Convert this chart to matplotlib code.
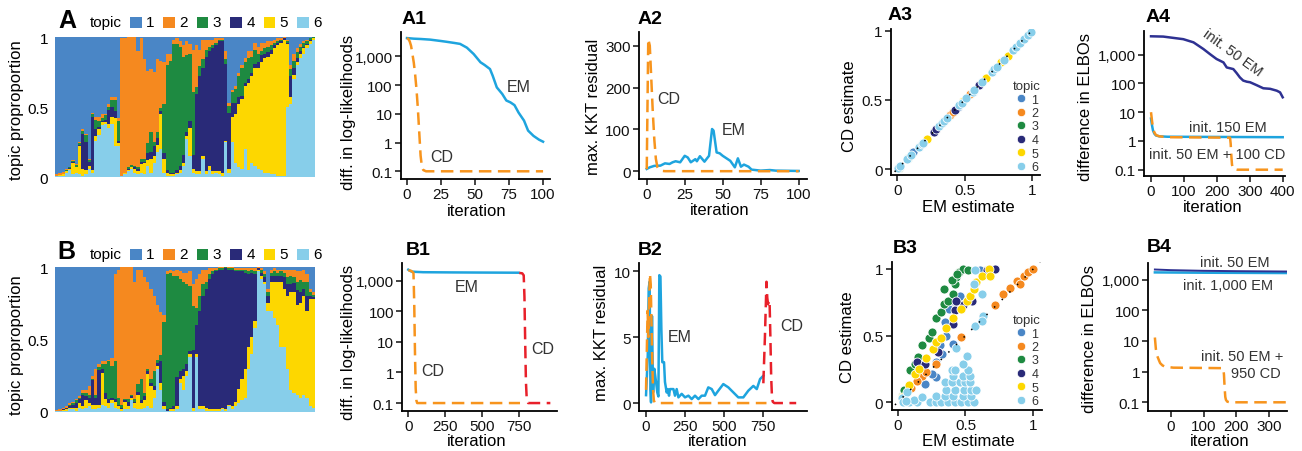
import numpy as np
import matplotlib
matplotlib.use('Agg')
import matplotlib.pyplot as plt
from matplotlib.patches import Rectangle
from matplotlib.lines import Line2D
from matplotlib.ticker import NullLocator

plt.rcParams['font.family'] = ['Liberation Sans', 'DejaVu Sans']

# ---------------- data ----------------
TOPICS = ['1', '2', '3', '4', '5', '6']
TOPIC_COLORS = ['#4a86c6', '#f5891f', '#1e8a41', '#292a78', '#fdd700', '#87ceea']

# Panel A topic proportions (80 samples)
A_t6 = [.005,.01,.01,.03,.05,.02,.03,.02,.01,.02, .06,.03,.26,.3,.37,.38,.35,.38,.22,.22,
        .01,.02,.04,.06,.03,.02,.03,.02,.08,.03, .1,.18,.2,.03,.01,.01,.01,.02,.03,.08,
        .27,.15,.03,.02,.02,.13,.02,.05,.02,.03, .02,.01,.25,.03,.25,.1,.07,.06,.2,.05,
        .1,.08,.06,.05,.03,.03,.02,.02,.01,.01, .01,.5,.52,.7,.8,.85,.88,.92,.95,.98]
A_t5 = [.005,.005,.01,.01,.01,.08,.04,.2,.05,.03, .02,.02,.03,.04,.02,.01,.03,.05,.2,.02,
        0,.01,.01,.01,.03,.02,.06,.08,.04,.1, .05,.05,.25,.1,.02,.01,.01,.01,.02,.02,
        .02,.2,.03,.02,.02,.02,.02,.03,.02,.01, .02,.02,.01,.03,.18,.35,.45,.5,.45,.62,
        .62,.7,.72,.77,.82,.83,.86,.9,.93,.95, .97,.45,.05,.03,.02,.03,.04,.02,.02,.01]
A_t4 = [0,0,.005,.005,.005,.01,.005,.01,.25,.2, .03,.38,.05,.02,.01,.02,.1,.07,.05,.02,
        0,0,.01,.005,.01,.02,.02,.01,.05,.05, .07,.05,.02,.04,.02,.01,.01,.02,.03,.06,
        .03,.05,.1,.55,.68,.63,.82,.82,.88,.9, .93,.94,.55,.4,.1,.08,.05,.02,.02,.03,
        .02,.03,.04,.05,.03,.03,.03,.02,.02,.01, .01,.01,.15,.05,.03,.02,.01,.01,.01,.005]
A_t3 = [0,0,0,.005,.005,.005,.01,.01,.02,.05, .01,.02,.07,.04,.02,.03,.02,.05,.08,.14,
        0,0,.01,.01,.01,.01,.02,.02,.07,.14, .03,.04,.02,.35,.75,.8,.92,.9,.85,.7,
        .55,.48,.45,.05,.07,.06,.05,.03,.02,.02, .01,.01,.03,.05,.08,.1,.15,.2,.15,.15,
        .12,.1,.06,.03,.04,.04,.03,.02,.01,.01, .005,.01,.05,.05,.04,.03,.03,.02,.01,.005]
A_t2 = [.01,.015,.01,.01,.005,.01,.01,.01,.01,.01, .01,.01,.02,.03,.03,.01,.02,.02,.02,.02,
        .98,.96,.93,.915,.92,.83,.86,.71,.52,.45, .5,.52,.34,.3,.08,.05,.03,.04,.04,.08,
        .1,.07,.3,.3,.12,.14,.07,.05,.04,.03, .01,.01,.06,.02,.01,.02,.02,.02,.03,.05,
        .04,.05,.05,.06,.04,.04,.03,.02,.02,.01, .005,.01,.03,.05,.03,.02,.01,.01,.005,0]
A_t1 = [.98,.97,.965,.94,.925,.875,.905,.75,.66,.69, .87,.54,.57,.57,.55,.55,.48,.43,.43,.58,
        .01,.01,0,0,0,.1,.01,.16,.24,.23, .25,.16,.17,.18,.12,.12,.02,.01,.03,.06,
        .03,.05,.09,.06,.09,.02,.02,.02,.02,.01, .01,.01,.1,.47,.38,.35,.26,.2,.15,.1,
        .1,.04,.07,.04,.04,.03,.03,.02,.01,.01, 0,.02,.2,.12,.08,.05,.03,.02,.005,0]

# Panel B topic proportions (80 samples)
B_t6 = [.005,.005,.01,.01,.02,.02,.01,.03,.02,.03, .04,.02,.02,.03,.05,.04,.03,.06,.03,.02,
        .01,.02,.02,.08,.03,.02,.02,.03,.04,.03, .1,.3,.15,.02,.01,.01,.01,.02,.2,.15,
        .25,.38,.01,.38,.02,.02,.01,.01,.01,.01, .01,.02,.01,.04,.02,.04,.06,.08,.1,.3,
        .4,.58,.97,.92,.88,.7,.7,.65,.6,.45, .45,.3,.15,.13,.12,.1,.12,.1,.04,.03]
B_t5 = [.005,.005,.005,.01,.01,.01,.02,.03,.02,.05, .02,.03,.03,.02,.22,.05,.03,.02,.04,.02,
        .01,.05,.02,.02,.03,.1,.04,.05,.22,.15, .05,.02,.05,.02,0,.01,.01,.02,.03,.1,
        .03,.02,.02,.02,.02,.02,.02,.01,.01,.01, .01,.01,.01,.01,.02,.03,.1,.15,.2,.15,
        .12,.05,.01,.02,.02,.05,.2,.25,.3,.45, .4,.5,.68,.7,.62,.65,.68,.6,.74,.75]
B_t4 = [0,0,.005,.005,.01,.02,.03,.03,.08,.03, .04,.17,.05,.24,.03,.04,.03,.02,.02,.01,
        .01,.01,.03,.01,.01,.02,.02,.03,.02,.02, .03,.02,.15,.03,.01,.01,.02,.2,.05,.05,
        .05,.02,.4,.2,.66,.76,.82,.9,.93,.95, .96,.95,.97,.93,.94,.9,.81,.74,.66,.5,
        .44,.32,.01,.02,.03,.05,.04,.04,.04,.04, .08,.08,.05,.06,.1,.08,.05,.1,.02,.01]
B_t3 = [0,0,0,.005,.01,.01,.02,.01,.01,.02, .02,.01,.02,.02,.03,.2,.26,.22,.26,.05,
        .02,.01,.02,.01,.02,.05,.15,.02,.02,.03, .1,.02,.04,.55,.93,.93,.9,.7,.64,.6,
        .55,.45,.3,.12,.1,.08,.05,.03,.02,.01, .01,.01,.01,.01,.01,.01,.01,.01,.02,.02,
        .02,.02,.005,.02,.02,.03,.02,.03,.02,.03, .03,.05,.06,.04,.06,.08,.05,.1,.03,.02]
B_t2 = [.005,.01,.01,.01,.01,.01,.01,.01,.02,.02, .06,.02,.18,.02,.02,.02,.01,.05,.6,.88,
        .95,.91,.91,.88,.81,.79,.75,.8,.6,.62, .52,.38,.3,.05,.02,.02,.03,.04,.05,.06,
        .08,.1,.15,.2,.15,.1,.08,.04,.02,.01, .01,.01,0,.01,.01,.01,.01,.01,.01,.02,
        .01,.02,.005,.01,.02,.02,.02,.02,.02,.01, .02,.05,.04,.05,.07,.06,.08,.05,.02,.02]
B_t1 = [.985,.98,.97,.96,.94,.93,.91,.89,.85,.85, .82,.75,.7,.67,.65,.65,.64,.63,.05,.02,
        0,0,0,0,.1,.02,.02,.07,.1,.15, .2,.26,.31,.33,.03,.02,.03,.02,.03,.04,
        .04,.03,.12,.08,.05,.02,.02,.01,.01,.01, 0,0,0,0,0,.01,.01,.01,.01,.01,
        .01,.01,0,.01,.03,.15,.02,.01,.02,.02, .02,.02,.02,.02,.03,.03,.02,.05,.15,.17]

# A1: difference in log-likelihoods
A1_em_x = [0, 5, 10, 17, 25, 29, 35, 39, 44, 49, 54, 57, 61, 63, 66, 70, 73, 76, 79, 82, 86, 89, 93, 97, 100]
A1_em_y = [4300, 4100, 4000, 3800, 3400, 3200, 2900, 2700, 2000, 1200, 620, 500, 360, 210, 83, 49, 29, 25, 20, 11, 5.8, 2.6, 1.7, 1.26, 1.07]
A1_cd_x = [0, 1, 2, 3, 4, 5, 6, 7, 8, 9, 10, 11, 12, 14, 100]
A1_cd_y = [4300, 4000, 3300, 2300, 1200, 600, 230, 70, 15, 2.3, 0.35, 0.14, 0.11, 0.1, 0.1]

# A2: max KKT residual
A2_em_x = [0, 2, 5, 9, 12, 15, 17, 19, 22, 25, 27, 29, 32, 33, 35, 38, 41, 43, 44, 46, 48, 50, 55, 58, 60, 62, 64, 67, 69, 75, 81, 85, 100]
A2_em_y = [5.6, 9.5, 13, 13.5, 19, 17.5, 21.5, 24, 21.5, 37, 33, 21.5, 29, 24, 36, 23, 37, 101, 97, 45, 43, 37, 25, 9.5, 31, 11, 16, 11, 4, 1.6, 3, 1.6, 0.8]
A2_cd_x = [0, 1, 2, 3, 4, 5, 6, 7, 8, 10, 12, 100]
A2_cd_y = [5, 316, 300, 220, 140, 75, 30, 10, 4, 1, 0.3, 0.2]

# A3: CD vs EM estimates
A3_em = {
    '1': [0.02, 0.12, 0.45],
    '2': [0.39, 0.41, 0.54],
    '3': [0.01, 0.08],
    '4': [0.27, 0.29, 0.43, 0.61],
    '5': [0.22, 0.49, 0.66, 0.77, 0.82],
    '6': [0.005, 0.02, 0.07, 0.1, 0.16, 0.18, 0.19, 0.31, 0.33, 0.35, 0.37, 0.46, 0.48, 0.51,
          0.56, 0.57, 0.63, 0.7, 0.72, 0.74, 0.79, 0.86, 0.88, 0.91, 0.94, 0.97, 0.99],
}
A3_cd = {
    '1': [0.02, 0.12, 0.45],
    '2': [0.39, 0.41, 0.54],
    '3': [0.01, 0.08],
    '4': [0.27, 0.29, 0.43, 0.61],
    '5': [0.22, 0.49, 0.66, 0.77, 0.82],
    '6': [0.005, 0.02, 0.07, 0.1, 0.16, 0.18, 0.19, 0.31, 0.33, 0.35, 0.37, 0.46, 0.48, 0.51,
          0.56, 0.57, 0.63, 0.7, 0.72, 0.74, 0.79, 0.86, 0.88, 0.91, 0.94, 0.97, 0.99],
}

# A4: difference in ELBOs
A4_em50_x = [0, 37, 98, 129, 159, 179, 199, 220, 230, 250, 260, 270, 280, 291, 301, 321, 341, 362, 382, 392, 400]
A4_em50_y = [4370, 4270, 3470, 2690, 1580, 1050, 710, 540, 360, 316, 230, 162, 126, 115, 110, 87, 68, 65, 56, 49, 33]
A4_em150_x = [0, 3, 6, 10, 15, 25, 50, 400]
A4_em150_y = [6, 3.5, 2.3, 1.8, 1.55, 1.45, 1.4, 1.35]
A4_cd_x = [0, 3, 6, 10, 15, 25, 50, 240, 242, 244, 246, 248, 250, 260, 400]
A4_cd_y = [10, 5, 2.8, 2, 1.6, 1.45, 1.35, 1.3, 0.8, 0.3, 0.15, 0.12, 0.105, 0.1, 0.1]

# B1
B1_em_x = [0, 20, 50, 100, 300, 500, 745]
B1_em_y = [2300, 2000, 1950, 1900, 1870, 1850, 1830]
B1_cd_x = [0, 20, 35, 40, 45, 50, 55, 60, 755]
B1_cd_y = [2200, 2100, 1800, 200, 5, 0.3, 0.12, 0.1, 0.1]
B1_cd2_x = [750, 770, 780, 785, 790, 795, 800, 810, 960]
B1_cd2_y = [1800, 1750, 1500, 300, 10, 0.5, 0.15, 0.1, 0.1]

# B2
B2_em_x = [0, 11, 17, 23, 28, 32, 38, 45, 53, 64, 72, 79, 85, 92, 98, 104, 115, 121, 132, 139, 147, 153,
           175, 185, 196, 207, 228, 249, 271, 292, 313, 335, 356, 377, 398, 420, 441, 462, 494, 526,
           558, 590, 622, 654, 686, 708, 729, 750]
B2_em_y = [0.6, 3.6, 8.7, 9.2, 1.06, 0.05, 6.6, 0.8, 2.6, 1.6, 0.8, 0.5, 9.7, 9.6, 5.6, 3.1, 3.1, 1.6, 0.8, 1.06, 0.56, 1.06,
           1.06, 0.56, 1.06, 0.43, 0.7, 0.43, 0.56, 0.3, 0.56, 0.3, 0.56, 0.56, 1.19, 1.06, 0.6, 0.94, 1.44, 1.19,
           0.81, 0.43, 0.43, 0.94, 1.3, 1.06, 1.82, 2.07]
B2_cd_x = [0, 5, 10, 15, 20, 25, 30, 35, 40, 45, 50, 55, 60, 770]
B2_cd_y = [1, 4, 7, 5, 8, 9.8, 9, 6, 3, 1, 0.2, 0.05, 0, 0]
B2_cd2_x = [750, 760, 770, 775, 780, 785, 790, 795, 800, 805, 810, 820, 960]
B2_cd2_y = [1.5, 5, 9.2, 8, 7.5, 7.8, 7.6, 5, 2, 0.5, 0.1, 0, 0]

# B3: CD vs EM estimates
B3_em = {
    '1': [0.04, 0.2, 0.28, 0.31, 0.36, 0.41, 0.35, 0.4, 0.42, 0.46, 0.61, 0.28, 0.33, 0.25, 0.38, 0.44],
    '2': [0.18, 0.21, 0.28, 0.47, 0.63, 0.72, 0.78, 0.83, 0.88, 0.9, 0.93, 0.96, 1.0, 0.1, 0.14],
    '3': [0.03, 0.05, 0.09, 0.13, 0.15, 0.18, 0.23, 0.25, 0.28, 0.32, 0.34, 0.37, 0.41, 0.42, 0.43,
          0.45, 0.48, 0.52, 0.34, 0.40, 0.44],
    '4': [0.14, 0.2, 0.3, 0.41, 0.42, 0.48, 0.55, 0.66, 0.72, 0.43],
    '5': [0.03, 0.08, 0.13, 0.16, 0.21, 0.26, 0.28, 0.32, 0.36, 0.41, 0.47, 0.51, 0.53, 0.56, 0.58,
          0.62, 0.67, 0.68],
    '6': [0.03, 0.07, 0.04, 0.08, 0.14, 0.24, 0.28, 0.32, 0.37, 0.42, 0.47, 0.52, 0.56,
          0.28, 0.35, 0.41, 0.48, 0.54, 0.36, 0.42, 0.49, 0.54, 0.58, 0.35, 0.4, 0.46, 0.5, 0.53,
          0.41, 0.48, 0.53, 0.4, 0.42, 0.52, 0.48, 0.51, 0.43, 0.57, 0.62, 0.56, 0.63, 0.57, 0.62,
          0.12, 0.18, 0.06],
}
B3_cd = {
    '1': [0.04, 0.14, 0.19, 0.43, 0.5, 0.44, 0.6, 0.76, 0.78, 0.8, 0.99, 0.3, 0.36, 0.21, 0.7, 0.72],
    '2': [0.2, 0.23, 0.29, 0.49, 0.65, 0.73, 0.81, 0.86, 0.91, 0.89, 0.95, 0.98, 1.0, 0.11, 0.16],
    '3': [0.05, 0.09, 0.24, 0.29, 0.34, 0.43, 0.48, 0.53, 0.63, 0.68, 0.74, 0.76, 0.81, 0.89, 0.94,
          0.98, 1.0, 0.99, 0.85, 0.92, 0.96],
    '4': [0.3, 0.29, 0.38, 0.59, 0.69, 0.73, 0.76, 0.99, 1.0, 0.76],
    '5': [0.04, 0.13, 0.21, 0.25, 0.33, 0.4, 0.45, 0.48, 0.56, 0.63, 0.7, 0.76, 0.8, 0.85, 0.9,
          0.95, 1.0, 0.95],
    '6': [0.03, 0.08, 0.005, 0.005, 0.005, 0.005, 0.005, 0.005, 0.005, 0.005, 0.005, 0.005, 0.005,
          0.05, 0.05, 0.05, 0.05, 0.05, 0.09, 0.09, 0.09, 0.09, 0.09, 0.15, 0.15, 0.15, 0.15, 0.15,
          0.2, 0.2, 0.2, 0.24, 0.24, 0.24, 0.29, 0.35, 0.41, 0.99, 0.81, 0.89, 0.65, 0.57, 0.61,
          0.02, 0.04, 0.01],
}

# B4
B4_em50_x = [-48, 0, 100, 200, 351]
B4_em50_y = [2150, 2050, 1950, 1900, 1850]
B4_em1000_x = [-48, 100, 351]
B4_em1000_y = [1730, 1690, 1650]
B4_cd_x = [-48, -45, -42, -36, -32, -25, -17, 0, 8, 160, 162, 164, 166, 168, 172, 180, 351]
B4_cd_y = [13, 5.5, 3.5, 2.4, 1.9, 1.6, 1.45, 1.38, 1.35, 1.3, 0.8, 0.3, 0.15, 0.12, 0.105, 0.1, 0.1]

DIAG = [-0.02, 1.05]

# ---------------- style ----------------
EM_C = '#1ea4de'
CD_C = '#f7941d'
RED_C = '#e8202a'
NAVY_C = '#2e3192'
TXT_C = '#333333'
DASH = (0, (5, 2.6))
LW = 1.8

W, H = 1302, 452
fig = plt.figure(figsize=(W / 100, H / 100), dpi=100)


def box(l, t, r, b):
    return [l / W, 1 - b / H, (r - l) / W, (b - t) / H]


def ftext(x, y, s, **kw):
    kw.setdefault('ha', 'center')
    kw.setdefault('va', 'center')
    fig.text(x / W, 1 - y / H, s, **kw)


def style(ax):
    for s in ['top', 'right']:
        ax.spines[s].set_visible(False)
    for s in ['left', 'bottom']:
        ax.spines[s].set_linewidth(1.3)
    ax.tick_params(direction='out', length=4, width=1.1, labelsize=11, pad=2, colors='#111111')


def log_y(ax, lo, hi):
    ax.set_yscale('log')
    ax.set_ylim(lo, hi)
    ax.set_yticks([0.1, 1, 10, 100, 1000])
    ax.set_yticklabels(['0.1', '1', '10', '100', '1,000'])
    ax.yaxis.set_minor_locator(NullLocator())


# ---------------- stacked bars ----------------
def stacked(ax, cols):
    arr = np.array(cols, dtype=float)  # order t1..t6
    arr = arr / arr.sum(axis=0)
    x = np.arange(arr.shape[1])
    bottom = np.zeros(arr.shape[1])
    for k in [5, 4, 3, 2, 1, 0]:
        ax.bar(x, arr[k], bottom=bottom, width=1.0, color=TOPIC_COLORS[k],
               edgecolor='none', linewidth=0, antialiased=False)
        bottom += arr[k]
    ax.set_xlim(-0.5, arr.shape[1] - 0.5)
    ax.set_ylim(0, 1)
    for s in ax.spines.values():
        s.set_visible(False)
    ax.set_xticks([])
    ax.set_yticks([0, 0.5, 1])
    ax.set_yticklabels(['0', '0.5', '1'])
    ax.tick_params(axis='y', length=0, labelsize=11, pad=5)


def bar_legend(yc):
    ftext(90, yc, 'topic', fontsize=11, ha='left')
    for i, c in enumerate(TOPIC_COLORS):
        x0 = 130 + 33.4 * i
        fig.patches.append(Rectangle((x0 / W, 1 - (yc + 5.5) / H), 11.5 / W, 11 / H,
                                     transform=fig.transFigure, color=c, linewidth=0))
        ftext(x0 + 16, yc, TOPICS[i], fontsize=11, ha='left')


axA = fig.add_axes(box(55, 38, 315, 178))
stacked(axA, [A_t1, A_t2, A_t3, A_t4, A_t5, A_t6])
bar_legend(23)
ftext(17, 110, 'topic proproportion', fontsize=12, rotation=90)
ftext(58, 21, 'A', fontsize=18, fontweight='bold', ha='left')

axB = fig.add_axes(box(55, 268, 315, 413))
stacked(axB, [B_t1, B_t2, B_t3, B_t4, B_t5, B_t6])
bar_legend(255)
ftext(17, 345, 'topic proproportion', fontsize=12, rotation=90)
ftext(57, 252, 'B', fontsize=18, fontweight='bold', ha='left')

# ---------------- A1 ----------------
ax = fig.add_axes(box(401, 33, 550, 180))
style(ax)
ax.plot(A1_em_x, A1_em_y, color=EM_C, lw=LW, zorder=2)
ax.plot(A1_cd_x, A1_cd_y, color=CD_C, lw=LW, linestyle=DASH, zorder=3)
ax.set_xlim(-4.4, 105.1)
log_y(ax, 10 ** -1.268, 10 ** 3.845)
ax.set_xticks([0, 25, 50, 75, 100])
ftext(519, 87, 'EM', fontsize=11.5, color=TXT_C)
ftext(442, 158, 'CD', fontsize=11.5, color=TXT_C)
ftext(348, 112, 'diff. in log-likelihoods', fontsize=12, rotation=90)
ftext(477, 212, 'iteration', fontsize=12)
ftext(402, 19, 'A1', fontsize=14, fontweight='bold', ha='left')

# ---------------- A2 ----------------
ax = fig.add_axes(box(639, 33, 807, 180))
style(ax)
ax.plot(A2_em_x, A2_em_y, color=EM_C, lw=LW, zorder=2)
ax.plot(A2_cd_x, A2_cd_y, color=CD_C, lw=LW, linestyle=DASH, zorder=3)
ax.set_xlim(-5.1, 105.5)
ax.set_ylim(-18.4, 332.7)
ax.set_xticks([0, 25, 50, 75, 100])
ax.set_yticks([0, 100, 200, 300])
ftext(669, 99, 'CD', fontsize=11.5, color=TXT_C)
ftext(734, 131, 'EM', fontsize=11.5, color=TXT_C)
ftext(593, 107, 'max. KKT residual', fontsize=12, rotation=90)
ftext(720, 211, 'iteration', fontsize=12)
ftext(638, 19, 'A2', fontsize=14, fontweight='bold', ha='left')


# ---------------- scatter panels ----------------
def scatter_panel(ax, em, cd, legend_top):
    style(ax)
    for i, t in enumerate(TOPICS):
        ax.scatter(em[t], cd[t], s=42, color=TOPIC_COLORS[i], edgecolor='white',
                   linewidth=0.6, zorder=2 + i * 0.01)
    ax.plot(DIAG, DIAG, color='black', lw=1.1, linestyle=(0, (1, 6)), zorder=5)
    ax.set_xticks([0, 0.5, 1])
    ax.set_xticklabels(['0', '0.5', '1'])
    ax.set_yticks([0, 0.5, 1])
    ax.set_yticklabels(['0', '0.5', '1'])
    handles = [Line2D([], [], marker='o', linestyle='none', markersize=6,
                      markerfacecolor=c, markeredgecolor='white', markeredgewidth=0.5)
               for c in TOPIC_COLORS]
    leg = ax.legend(handles, TOPICS, title='topic', loc='upper left',
                    bbox_to_anchor=(1012.8 / W, 1 - legend_top / H),
                    bbox_transform=fig.transFigure, frameon=False, fontsize=9,
                    title_fontsize=9.5, borderpad=0, borderaxespad=0, handlelength=1.0,
                    handletextpad=0.3, labelspacing=0.12)
    for txt in leg.get_texts():
        txt.set_color(TXT_C)
    leg.get_title().set_color(TXT_C)


ax = fig.add_axes(box(891, 30, 1040, 175.7))
scatter_panel(ax, A3_em, A3_cd, 81)
ax.set_xlim(-0.047, 1.06)
ax.set_ylim(-0.041, 1.012)
ftext(850, 106, 'CD estimate', fontsize=12, rotation=90)
ftext(968, 208, 'EM estimate', fontsize=12)
ftext(888, 16, 'A3', fontsize=14, fontweight='bold', ha='left')

ax = fig.add_axes(box(891.7, 263.3, 1041.7, 411))
scatter_panel(ax, B3_em, B3_cd, 315)
ax.set_xlim(-0.044, 1.062)
ax.set_ylim(-0.058, 1.05)
ftext(848, 337, 'CD estimate', fontsize=12, rotation=90)
ftext(968, 442, 'EM estimate', fontsize=12)
ftext(893, 249, 'B3', fontsize=14, fontweight='bold', ha='left')

# ---------------- A4 ----------------
ax = fig.add_axes(box(1144.3, 31.7, 1285, 176.7))
style(ax)
ax.plot(A4_em50_x, A4_em50_y, color=NAVY_C, lw=LW, zorder=2)
ax.plot(A4_em150_x, A4_em150_y, color=EM_C, lw=LW, zorder=2)
ax.plot(A4_cd_x, A4_cd_y, color=CD_C, lw=LW, linestyle=DASH, zorder=3)
ax.set_xlim(-20.4, 407)
log_y(ax, 10 ** -1.209, 10 ** 3.835)
ax.set_xticks([0, 100, 200, 300, 400])
ftext(1233, 53, 'init. 50 EM', fontsize=10.5, color=TXT_C, rotation=-36)
ftext(1228, 128, 'init. 150 EM', fontsize=10.5, color=TXT_C)
ftext(1217, 155, 'init. 50 EM + 100 CD', fontsize=10.5, color=TXT_C)
ftext(1085, 107, 'difference in ELBOs', fontsize=12, rotation=90)
ftext(1213, 208, 'iteration', fontsize=12)
ftext(1146, 18, 'A4', fontsize=14, fontweight='bold', ha='left')

# ---------------- B1 ----------------
ax = fig.add_axes(box(402.3, 264.3, 557, 411.7))
style(ax)
ax.plot(B1_em_x, B1_em_y, color=EM_C, lw=LW, zorder=2)
ax.plot(B1_cd_x, B1_cd_y, color=CD_C, lw=LW, linestyle=DASH, zorder=3)
ax.plot(B1_cd2_x, B1_cd2_y, color=RED_C, lw=LW, linestyle=DASH, zorder=3)
ax.set_xlim(-40.5, 1005)
log_y(ax, 10 ** -1.25, 10 ** 3.57)
ax.set_xticks([0, 250, 500, 750])
ftext(467, 287, 'EM', fontsize=11.5, color=TXT_C)
ftext(433, 372, 'CD', fontsize=11.5, color=TXT_C)
ftext(543, 350, 'CD', fontsize=11.5, color=TXT_C)
ftext(348, 342, 'diff. in log-likelihoods', fontsize=12, rotation=90)
ftext(477, 442, 'iteration', fontsize=12)
ftext(406, 251, 'B1', fontsize=14, fontweight='bold', ha='left')

# ---------------- B2 ----------------
ax = fig.add_axes(box(639, 264.3, 807.3, 411.7))
style(ax)
ax.plot(B2_em_x, B2_em_y, color=EM_C, lw=LW, zorder=2)
ax.plot(B2_cd_x, B2_cd_y, color=CD_C, lw=LW, linestyle=DASH, zorder=3)
ax.plot(B2_cd2_x, B2_cd2_y, color=RED_C, lw=LW, linestyle=DASH, zorder=3)
ax.set_xlim(-45, 1031)
ax.set_ylim(-0.58, 10.6)
ax.set_xticks([0, 250, 500, 750])
ax.set_yticks([0, 5, 10])
ftext(680, 338, 'EM', fontsize=11.5, color=TXT_C)
ftext(792, 327, 'CD', fontsize=11.5, color=TXT_C)
ftext(602, 333, 'max. KKT residual', fontsize=12, rotation=90)
ftext(718, 442, 'iteration', fontsize=12)
ftext(638, 251, 'B2', fontsize=14, fontweight='bold', ha='left')

# ---------------- B4 ----------------
ax = fig.add_axes(box(1148.3, 264.3, 1287.3, 411.7))
style(ax)
ax.plot(B4_em1000_x, B4_em1000_y, color=EM_C, lw=LW, zorder=2)
ax.plot(B4_em50_x, B4_em50_y, color=NAVY_C, lw=1.4, zorder=2)
ax.plot(B4_cd_x, B4_cd_y, color=CD_C, lw=LW, linestyle=DASH, zorder=3)
ax.set_xlim(-68, 354.5)
log_y(ax, 10 ** -1.274, 10 ** 3.535)
ax.set_xticks([0, 100, 200, 300])
ftext(1235, 263, 'init. 50 EM', fontsize=10.5, color=TXT_C)
ftext(1228, 286, 'init. 1,000 EM', fontsize=10.5, color=TXT_C)
ftext(1242, 357, 'init. 50 EM +', fontsize=10.5, color=TXT_C)
ftext(1256, 374, '950 CD', fontsize=10.5, color=TXT_C)
ftext(1090, 339, 'difference in ELBOs', fontsize=12, rotation=90)
ftext(1220, 442, 'iteration', fontsize=12)
ftext(1147, 248, 'B4', fontsize=14, fontweight='bold', ha='left')

fig.savefig('out.png', dpi=100)
